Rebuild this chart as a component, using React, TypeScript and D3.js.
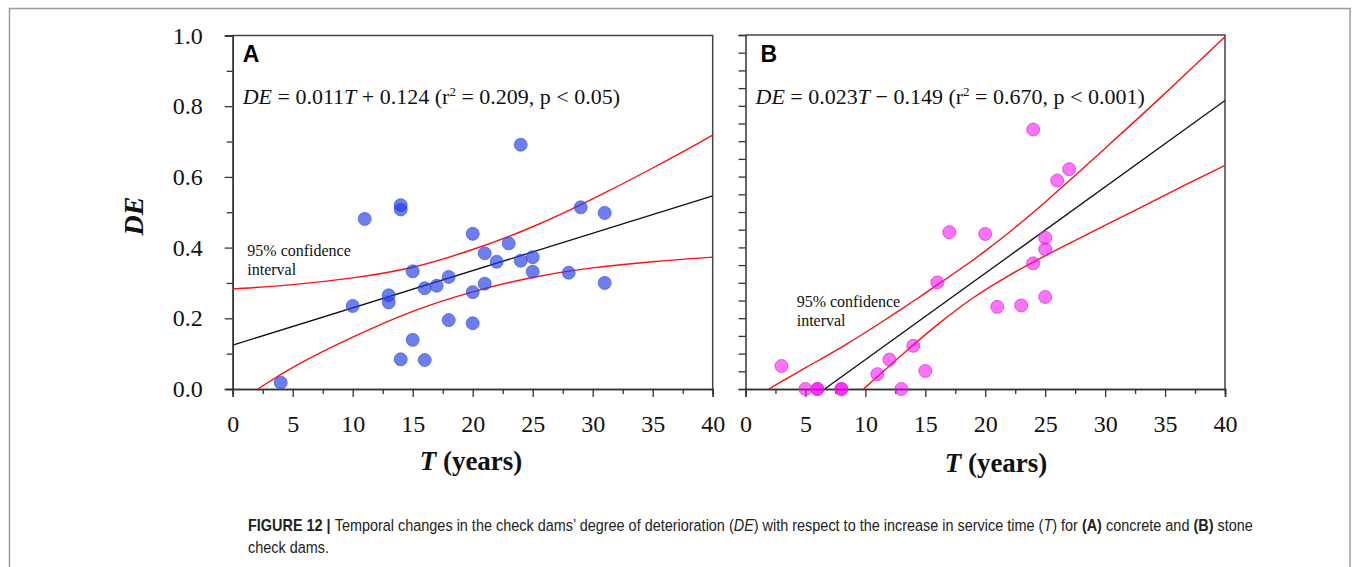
import React, { useEffect, useRef } from 'react'
import * as d3 from 'd3'

// panel A (concrete check dams): service time T and degree of deterioration DE
const tA = [24, 14, 14, 11, 29, 31, 20, 23, 21, 22, 24, 25, 25, 28, 31, 15, 18, 17, 16, 21, 20, 13, 13, 10, 18, 20, 15, 14, 16, 4]
const deA = [0.691, 0.520, 0.508, 0.481, 0.514, 0.498, 0.439, 0.412, 0.384, 0.360, 0.363, 0.373, 0.332, 0.329, 0.300, 0.333, 0.317, 0.292, 0.285, 0.298, 0.274, 0.265, 0.245, 0.235, 0.195, 0.186, 0.139, 0.084, 0.082, 0.018]

// panel B (stone check dams)
const tB = [24, 27, 26, 17, 20, 25, 25, 24, 16, 25, 21, 23, 14, 12, 11, 15, 3, 5, 6, 6, 8, 8, 13]
const deB = [0.733, 0.621, 0.589, 0.443, 0.438, 0.427, 0.395, 0.355, 0.301, 0.260, 0.232, 0.236, 0.122, 0.083, 0.042, 0.051, 0.065, 0, 0, 0, 0, 0, 0]

// fitted lines (end points)
const fitAT = [0, 40]
const fitADE = [0.124, 0.546]
const fitBT = [6.6, 40]
const fitBDE = [0, 0.815]

// 95% confidence bands
const ciUpATs = [0, 5, 10, 15, 20, 25, 30, 35, 40]
const ciUpADE = [0.283, 0.294, 0.313, 0.340, 0.393, 0.456, 0.537, 0.624, 0.718]
const ciLoATs = [2.1, 5, 10, 15, 20, 25, 30, 35, 40]
const ciLoADE = [0, 0.064, 0.148, 0.223, 0.277, 0.318, 0.344, 0.361, 0.373]
const ciUpBTs = [1.95, 5, 8.4, 11.2, 14.8, 16, 19, 20, 21.8, 24.55, 27.3, 30.1, 34.3, 40]
const ciUpBDE = [0, 0.060, 0.125, 0.185, 0.266, 0.294, 0.364, 0.390, 0.436, 0.514, 0.597, 0.683, 0.812, 0.995]
const ciLoBTs = [9.85, 13.4, 16.2, 19, 21.8, 24.55, 27.3, 30.1, 32.9, 35.7, 40]
const ciLoBDE = [0, 0.108, 0.188, 0.260, 0.318, 0.369, 0.416, 0.464, 0.512, 0.560, 0.632]

// ticks
const xMajor = [0, 5, 10, 15, 20, 25, 30, 35, 40]
const xMinor = [2.5, 7.5, 12.5, 17.5, 22.5, 27.5, 32.5, 37.5]
const yMajorA = [0, 0.2, 0.4, 0.6, 0.8, 1.0]
const yMinorA = [0.1, 0.3, 0.5, 0.7, 0.9]
const yTicksB = [0, 0.05, 0.1, 0.15, 0.2, 0.25, 0.3, 0.35, 0.4, 0.45, 0.5, 0.55, 0.6, 0.65, 0.7, 0.75, 0.8, 0.85, 0.9, 0.95, 1.0]

const serif = "'Liberation Serif', 'Times New Roman', serif"
const sans = "'Liberation Sans', Arial, sans-serif"

const zip = (ts, ds) => ts.map((t, i) => ({ t: t, de: ds[i] }))

function drawPanel(svg, p) {
  const x = d3.scaleLinear().domain([0, 40]).range([p.left, p.right])
  const y = d3.scaleLinear().domain([0, 1]).range([p.bottom, p.top])

  const clipId = 'clip' + p.name
  svg.append('clipPath').attr('id', clipId)
    .append('rect')
    .attr('x', p.left).attr('y', p.top - 1)
    .attr('width', p.right - p.left).attr('height', p.bottom - p.top + 1)

  // top + right frame of the plot
  svg.append('path')
    .attr('d', 'M' + p.left + ',' + y(1) + 'H' + x(40) + 'V' + y(0))
    .attr('fill', 'none').attr('stroke', '#444').attr('stroke-width', 1.5)

  // y axis
  if (p.yMajor) {
    svg.append('g')
      .attr('transform', 'translate(' + p.left + ',0)')
      .call(d3.axisLeft(y).tickValues(p.yMinor).tickSize(6).tickFormat(() => ''))
    svg.append('g')
      .attr('class', 'ylab')
      .attr('transform', 'translate(' + p.left + ',0)')
      .call(d3.axisLeft(y).tickValues(p.yMajor).tickSize(8).tickPadding(22).tickFormat(d3.format('.1f')))
  } else {
    svg.append('g')
      .attr('transform', 'translate(' + p.left + ',0)')
      .call(d3.axisLeft(y).tickValues(p.yTicks).tickSize(7).tickFormat(() => ''))
  }

  // x axis
  svg.append('g')
    .attr('transform', 'translate(0,' + p.bottom + ')')
    .call(d3.axisBottom(x).tickValues(xMinor).tickSize(5).tickFormat(() => ''))
  svg.append('g')
    .attr('class', 'xlab')
    .attr('transform', 'translate(0,' + p.bottom + ')')
    .call(d3.axisBottom(x).tickValues(xMajor).tickSize(8).tickFormat(d3.format('d')))

  svg.selectAll('.domain').attr('stroke', '#333').attr('stroke-width', 1.5)
  svg.selectAll('.tick line').attr('stroke', '#333').attr('stroke-width', 1.3)
  svg.selectAll('.tick text')
    .attr('font-family', serif).attr('font-size', 24).attr('fill', '#111')
  svg.selectAll('.xlab .tick text').attr('y', 43).attr('dy', 0)

  const line = d3.line().x(d => x(d.t)).y(d => y(d.de))
  const curve = d3.line().x(d => x(d.t)).y(d => y(d.de)).curve(d3.curveBasis)

  const plot = svg.append('g').attr('clip-path', 'url(#' + clipId + ')')

  plot.append('path').datum(zip(p.fitT, p.fitDE))
    .attr('d', line).attr('fill', 'none').attr('stroke', '#111').attr('stroke-width', 1.3)
  plot.append('path').datum(zip(p.upT, p.upDE))
    .attr('d', curve).attr('fill', 'none').attr('stroke', '#ff1010').attr('stroke-width', 1.4)
  plot.append('path').datum(zip(p.loT, p.loDE))
    .attr('d', curve).attr('fill', 'none').attr('stroke', '#ff1010').attr('stroke-width', 1.4)

  svg.append('g').selectAll('circle')
    .data(zip(p.t, p.de))
    .enter().append('circle')
    .attr('cx', d => x(d.t))
    .attr('cy', d => y(d.de))
    .attr('r', 6.5)
    .attr('fill', p.color)
    .attr('fill-opacity', p.opacity)
    .attr('stroke', p.stroke)
    .attr('stroke-opacity', 0.7)
    .attr('stroke-width', 1)

  // panel letter
  svg.append('text')
    .attr('x', p.left + p.letterDx).attr('y', 62)
    .attr('font-family', sans).attr('font-weight', 'bold').attr('font-size', 23)
    .text(p.name)

  // equation
  const eq = svg.append('text')
    .attr('x', p.left + p.eqDx).attr('y', 104)
    .attr('font-family', serif).attr('font-size', 22).attr('fill', '#111')
  eq.append('tspan').attr('font-style', 'italic').text('DE')
  eq.append('tspan').text(' = ' + p.slope)
  eq.append('tspan').attr('font-style', 'italic').text('T')
  eq.append('tspan').text(' ' + p.sign + ' ' + p.intercept + ' (r')
  eq.append('tspan').attr('font-size', 13).attr('dy', -8).text('2')
  eq.append('tspan').attr('dy', 8).text(' = ' + p.r2 + ', p < ' + p.pval + ')')

  // confidence band label
  const ci = svg.append('text')
    .attr('font-family', serif).attr('font-size', 16).attr('fill', '#111')
  ci.append('tspan').attr('x', p.ciX).attr('y', p.ciY).text('95% confidence')
  ci.append('tspan').attr('x', p.ciX).attr('y', p.ciY + 19).text('interval')

  // x title
  const xt = svg.append('text')
    .attr('x', p.xTitleX).attr('y', p.xTitleY)
    .attr('text-anchor', 'middle')
    .attr('font-family', serif).attr('font-weight', 'bold').attr('font-size', 27).attr('fill', '#111')
  xt.append('tspan').attr('font-style', 'italic').text('T')
  xt.append('tspan').text(' (years)')
}

export default function App() {
  const ref = useRef(null)

  useEffect(() => {
    const svg = d3.select(ref.current)
    svg.selectAll('*').remove()

    svg.append('rect')
      .attr('x', 9.5).attr('y', 8.5).attr('width', 1340.5).attr('height', 620)
      .attr('fill', 'none').attr('stroke', '#9a9a9a').attr('stroke-width', 1.5)

    drawPanel(svg, {
      name: 'A', left: 232.7, right: 712.7, top: 35.5, bottom: 389,
      t: tA, de: deA, color: 'rgb(35,60,228)', stroke: 'rgb(60,85,230)', opacity: 0.66,
      yMajor: yMajorA, yMinor: yMinorA,
      fitT: fitAT, fitDE: fitADE, upT: ciUpATs, upDE: ciUpADE, loT: ciLoATs, loDE: ciLoADE,
      letterDx: 10, eqDx: 10, slope: '0.011', sign: '+', intercept: '0.124', r2: '0.209', pval: '0.05',
      ciX: 247.3, ciY: 256, xTitleX: 471, xTitleY: 470
    })
    drawPanel(svg, {
      name: 'B', left: 745.5, right: 1225, top: 35, bottom: 389,
      t: tB, de: deB, color: 'rgb(245,0,245)', stroke: 'rgb(225,40,225)', opacity: 0.55,
      yTicks: yTicksB,
      fitT: fitBT, fitDE: fitBDE, upT: ciUpBTs, upDE: ciUpBDE, loT: ciLoBTs, loDE: ciLoBDE,
      letterDx: 15, eqDx: 10, slope: '0.023', sign: '\u2212', intercept: '0.149', r2: '0.670', pval: '0.001',
      ciX: 796.7, ciY: 307, xTitleX: 996, xTitleY: 472
    })

    // y title, shared
    svg.append('text')
      .attr('transform', 'translate(143,216) rotate(-90)')
      .attr('text-anchor', 'middle')
      .attr('font-family', serif).attr('font-weight', 'bold').attr('font-style', 'italic')
      .attr('font-size', 28).attr('fill', '#111')
      .text('DE')

    // caption (narrow face in the original, squeezed horizontally here)
    const cap = svg.append('g')
      .attr('transform', 'translate(248,0) scale(0.875,1)')
      .append('text')
      .attr('font-family', sans).attr('font-size', 16.5).attr('fill', '#222')
    const l1 = cap.append('tspan').attr('x', 0).attr('y', 531)
    l1.append('tspan').attr('font-weight', 'bold').text('FIGURE 12 | ')
    l1.append('tspan').text('Temporal changes in the check dams\u2019 degree of deterioration (')
    l1.append('tspan').attr('font-style', 'italic').text('DE')
    l1.append('tspan').text(') with respect to the increase in service time (')
    l1.append('tspan').attr('font-style', 'italic').text('T')
    l1.append('tspan').text(') for ')
    l1.append('tspan').attr('font-weight', 'bold').text('(A)')
    l1.append('tspan').text(' concrete and ')
    l1.append('tspan').attr('font-weight', 'bold').text('(B)')
    l1.append('tspan').text(' stone')
    cap.append('tspan').attr('x', 0).attr('y', 553).text('check dams.')
  }, [])

  return (
    <svg ref={ref} width={1355} height={567}
      style={{ position: 'absolute', left: 0, top: 0, background: '#fff' }} />
  )
}
